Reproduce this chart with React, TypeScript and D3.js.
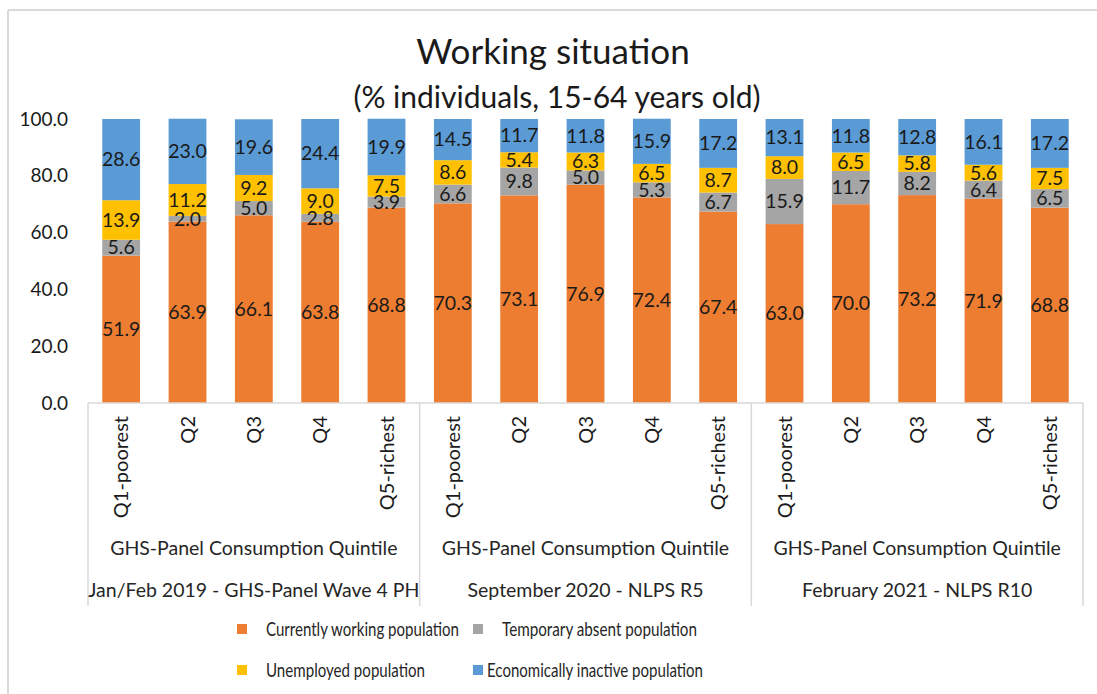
import * as d3 from "d3";

const quintiles = ["Q1-poorest", "Q2", "Q3", "Q4", "Q5-richest"];
const groups = [
  "Jan/Feb 2019 - GHS-Panel Wave 4 PH",
  "September 2020 - NLPS R5",
  "February 2021 - NLPS R10",
];
const groupSub = "GHS-Panel Consumption Quintile";

const working = [51.9, 63.9, 66.1, 63.8, 68.8, 70.3, 73.1, 76.9, 72.4, 67.4, 63.0, 70.0, 73.2, 71.9, 68.8];
const absent = [5.6, 2.0, 5.0, 2.8, 3.9, 6.6, 9.8, 5.0, 5.3, 6.7, 15.9, 11.7, 8.2, 6.4, 6.5];
const unemployed = [13.9, 11.2, 9.2, 9.0, 7.5, 8.6, 5.4, 6.3, 6.5, 8.7, 8.0, 6.5, 5.8, 5.6, 7.5];
const inactive = [28.6, 23.0, 19.6, 24.4, 19.9, 14.5, 11.7, 11.8, 15.9, 17.2, 13.1, 11.8, 12.8, 16.1, 17.2];

const seriesNames = [
  "Currently working population",
  "Temporary absent population",
  "Unemployed population",
  "Economically inactive population",
];
const colors = ["#ED7D31", "#A5A5A5", "#FFC000", "#5B9BD5"];
const yTicks = [0, 20, 40, 60, 80, 100];

const W = 1097;
const H = 694;
const left = 88;
const right = 1083;
const top = 119;
const bottom = 403;
const font = "Lato, 'Noto Sans', sans-serif";

// legend layout (the legend text in the original is condensed)
const legendX = [237, 473, 237, 473];
const legendTextX = [266, 502, 266, 487];
const legendY = [629, 629, 670, 670];
const legendW = [193, 195, 159, 216];

export default function App() {
  const idx = d3.range(working.length);
  const rows = idx.map((i) => ({
    i,
    w: working[i],
    a: absent[i],
    u: unemployed[i],
    n: inactive[i],
  }));
  const stack = d3.stack<any>().keys(["w", "a", "u", "n"]);
  const layers = stack(rows);

  const x = d3
    .scaleBand<number>()
    .domain(idx)
    .range([left, right])
    .paddingInner(0.43)
    .paddingOuter(0.215);
  const y = d3.scaleLinear().domain([0, 100]).range([bottom, top]);

  const step = x.step();
  const groupEdges = d3.range(groups.length + 1).map((g) => left + g * 5 * step);

  return (
    <svg
      width={W}
      height={H}
      style={{ position: "absolute", left: 0, top: 0, background: "#fff" }}
      fontFamily={font}
    >
      {/* chart frame */}
      <line x1={8} x2={W} y1={10} y2={10} stroke="#d9d9d9" strokeWidth={2} />
      <line x1={8} x2={8} y1={10} y2={H} stroke="#d9d9d9" strokeWidth={2} />

      <text x={553} y={64} textAnchor="middle" fontSize={35} fill="#1a1a1a">
        Working situation
      </text>
      <text x={557} y={108} textAnchor="middle" fontSize={30} fill="#1a1a1a">
        (% individuals, 15-64 years old)
      </text>

      {/* y axis labels */}
      {yTicks.map((t) => (
        <text
          key={t}
          x={68}
          y={y(t)}
          dy="0.35em"
          textAnchor="end"
          fontSize={19}
          fill="#1a1a1a"
        >
          {d3.format(".1f")(t)}
        </text>
      ))}

      {/* bars */}
      {layers.map((layer, k) => (
        <g key={k} fill={colors[k]}>
          {layer.map((d, i) => (
            <rect
              key={i}
              x={x(i)}
              y={y(d[1])}
              width={x.bandwidth()}
              height={y(d[0]) - y(d[1])}
            />
          ))}
        </g>
      ))}

      {/* data labels */}
      {layers.map((layer, k) => (
        <g key={"l" + k} fontSize={19.5} fill="#1a1a1a" textAnchor="middle">
          {layer.map((d, i) => (
            <text
              key={i}
              x={(x(i) ?? 0) + x.bandwidth() / 2}
              y={(y(d[0]) + y(d[1])) / 2}
              dy="0.35em"
            >
              {d3.format(".1f")(d[1] - d[0])}
            </text>
          ))}
        </g>
      ))}

      {/* category axis */}
      <line x1={left} x2={right} y1={bottom} y2={bottom} stroke="#d9d9d9" strokeWidth={1.5} />
      {groupEdges.map((gx, g) => (
        <line key={g} x1={gx} x2={gx} y1={bottom} y2={606} stroke="#d9d9d9" strokeWidth={1.5} />
      ))}
      {idx.map((i) => {
        const cx = (x(i) ?? 0) + x.bandwidth() / 2;
        return (
          <text
            key={i}
            transform={`translate(${cx},416) rotate(-90)`}
            textAnchor="end"
            dy="0.35em"
            fontSize={20}
            fill="#1a1a1a"
          >
            {quintiles[i % 5]}
          </text>
        );
      })}
      {groups.map((g, gi) => {
        const cx = (groupEdges[gi] + groupEdges[gi + 1]) / 2;
        return (
          <g key={g} fontSize={19.5} fill="#262626" textAnchor="middle">
            <text x={cx} y={548} dy="0.35em">
              {groupSub}
            </text>
            <text x={cx} y={590} dy="0.35em">
              {g}
            </text>
          </g>
        );
      })}

      {/* legend */}
      {seriesNames.map((s, k) => (
        <g key={s}>
          <rect x={legendX[k]} y={legendY[k] - 5} width={10} height={10} fill={colors[k]} />
          <text
            x={legendTextX[k]}
            y={legendY[k]}
            dy="0.35em"
            fontSize={19}
            fill="#262626"
            textLength={legendW[k]}
            lengthAdjust="spacingAndGlyphs"
          >
            {s}
          </text>
        </g>
      ))}
    </svg>
  );
}
